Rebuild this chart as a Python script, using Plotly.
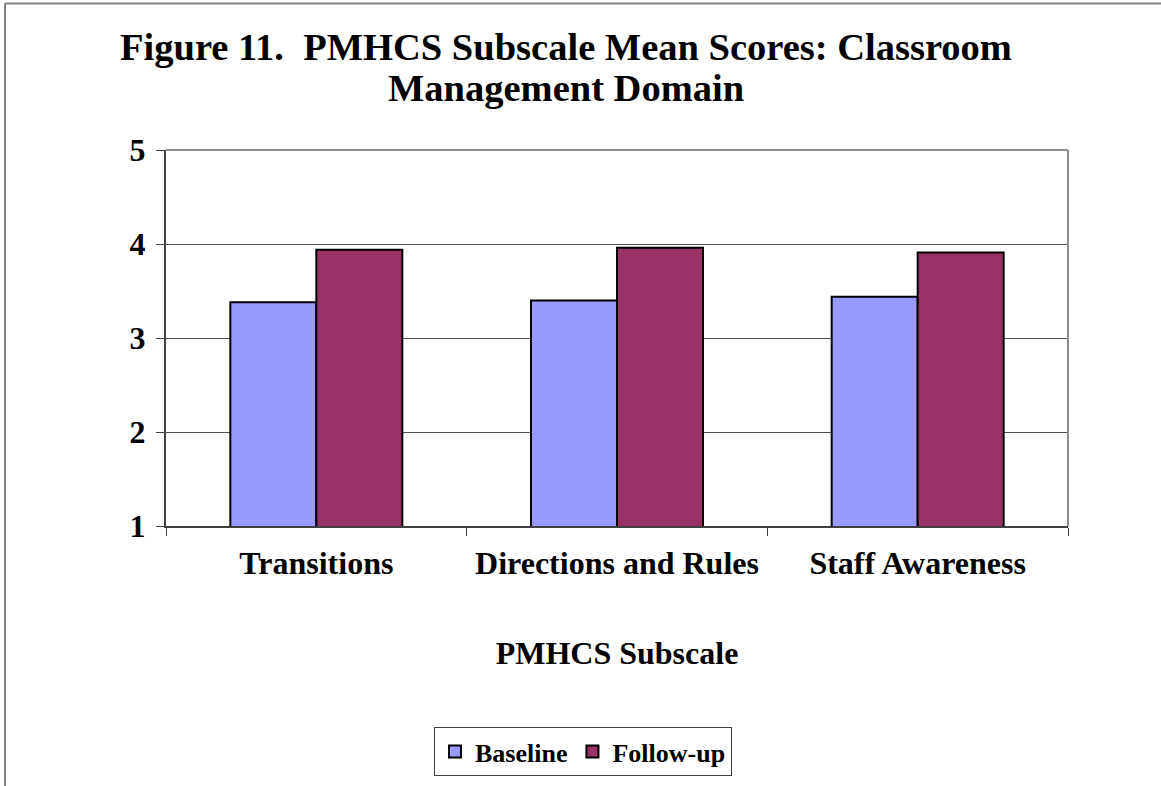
import plotly.graph_objects as go

subscales = ["Transitions", "Directions and Rules", "Staff Awareness"]
baseline = [3.38, 3.40, 3.44]
followup = [3.94, 3.96, 3.91]

W, H = 1161, 786
L, R, T, B = 166, 93, 150, 259
pw, ph = W - L - R, H - T - B

def px_x(v):
    return (v - L) / pw

def px_y(v):
    return (H - B - v) / ph

serif = "Liberation Serif, Times New Roman, serif"

fig = go.Figure()
fig.add_trace(go.Bar(name="Baseline", x=subscales, y=baseline,
                     marker=dict(color="#9999FF", line=dict(color="black", width=2))))
fig.add_trace(go.Bar(name="Follow-up", x=subscales, y=followup,
                     marker=dict(color="#993366", line=dict(color="black", width=2))))

fig.update_layout(
    width=W, height=H,
    margin=dict(l=L, r=R, t=T, b=B),
    paper_bgcolor="white", plot_bgcolor="white",
    barmode="group", bargap=0.428, bargroupgap=0,
    font=dict(family=serif, color="black", size=32, weight="bold"),
    legend=dict(orientation="h", x=px_x(583), xanchor="center",
                y=px_y(727), yanchor="top",
                bordercolor="#404040", borderwidth=1,
                font=dict(size=26, family=serif, weight="bold"),
                itemwidth=30, tracegroupgap=0),
    showlegend=True,
)

# two-line chart title
title_lines = ["Figure 11.&nbsp; PMHCS Subscale Mean Scores: Classroom", "Management Domain"]
for line, yc in zip(title_lines, [47, 88]):
    fig.add_annotation(text=line, xref="paper", yref="paper", x=px_x(566), y=px_y(yc),
                       xanchor="center", yanchor="middle", showarrow=False,
                       font=dict(size=38.5, family=serif, weight="bold"))

fig.update_xaxes(
    showline=True, linecolor="#404040", linewidth=2,
    ticks="outside", tickson="boundaries", ticklen=8, tickcolor="#404040",
    tickfont=dict(size=32), showgrid=False, ticklabelstandoff=8,
    title=dict(text="PMHCS Subscale", font=dict(size=32), standoff=61),
)
fig.update_yaxes(
    range=[1, 5], dtick=1, showline=True, linecolor="#404040", linewidth=2,
    ticks="outside", ticklen=8, tickcolor="#404040", ticklabelstandoff=4,
    showgrid=True, gridcolor="#505050", gridwidth=1,
    tickfont=dict(size=32), zeroline=False,
)

# plot area border (top/right light gray)
fig.add_shape(type="line", xref="paper", yref="paper", x0=0, x1=1, y0=1, y1=1,
              line=dict(color="#8c8c8c", width=2))
fig.add_shape(type="line", xref="paper", yref="paper", x0=1, x1=1, y0=0, y1=1,
              line=dict(color="#8c8c8c", width=2))
# outer chart frame
fig.add_shape(type="line", xref="paper", yref="paper", x0=px_x(5), x1=px_x(5),
              y0=px_y(3), y1=px_y(800), line=dict(color="#808080", width=2))
fig.add_shape(type="line", xref="paper", yref="paper", x0=px_x(5), x1=px_x(1200),
              y0=px_y(3), y1=px_y(3), line=dict(color="#808080", width=2))

fig.write_html("out.html", config={"displayModeBar": False},
               post_script="document.body.style.margin='0';")
